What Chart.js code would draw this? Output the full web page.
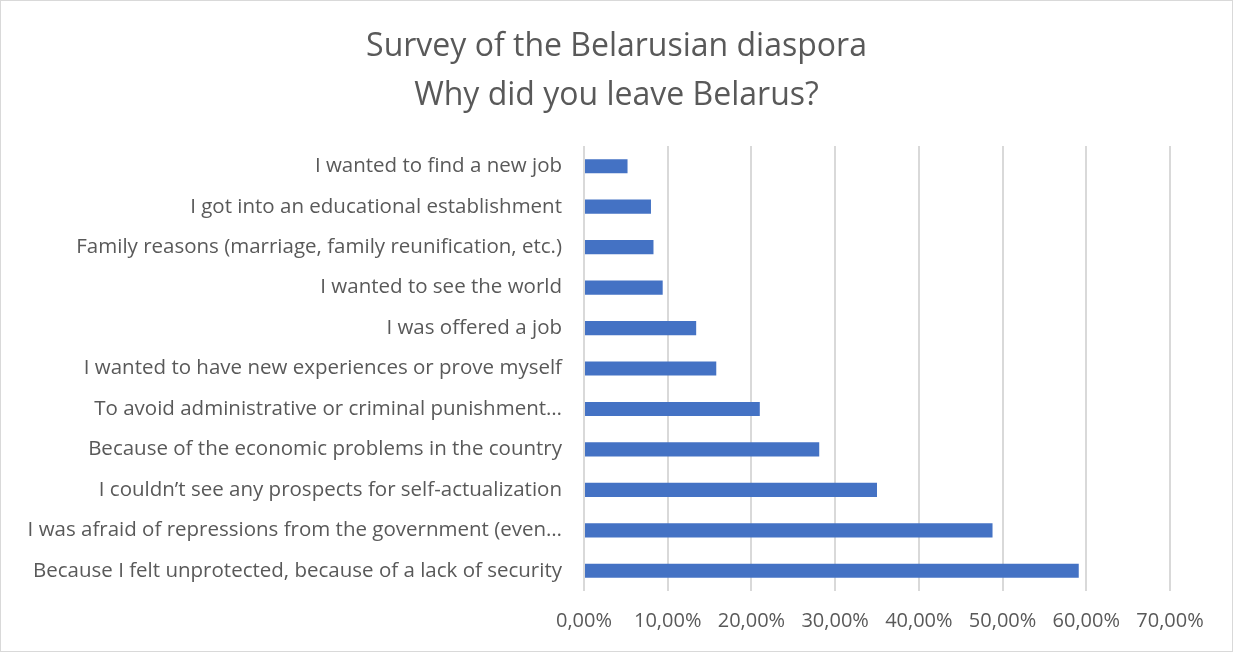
<!DOCTYPE html>
<html>
<head>
<meta charset="utf-8">
<script src="https://cdn.jsdelivr.net/npm/chart.js@4"></script>
<style>
  html, body { margin: 0; padding: 0; background: #fff; }
  #wrap { width: 1233px; height: 652px; box-sizing: border-box; border: 1px solid #d9d9d9; position: relative; }
</style>
</head>
<body>
<div id="wrap"><canvas id="myBarChart"></canvas></div>
<script>
// reasons, top to bottom as in the picture
const reasons = [
    "I wanted to find a new job",
    "I got into an educational establishment",
    "Family reasons (marriage, family reunification, etc.)",
    "I wanted to see the world",
    "I was offered a job",
    "I wanted to have new experiences or prove myself",
    "To avoid administrative or criminal punishment…",
    "Because of the economic problems in the country",
    "I couldn’t see any prospects for self-actualization",
    "I was afraid of repressions from the government (even…",
    "Because I felt unprotected, because of a lack of security"
];
// share of respondents, percent
const shares = [5.2, 8.0, 8.3, 9.4, 13.4, 15.8, 21.0, 28.1, 35.0, 48.8, 59.1];
const titleLines = ["Survey of the Belarusian diaspora", "Why did you leave Belarus?"];
const xMax = 70;
const xStep = 10;

const textColor = '#595959';
const fontFamily = "'Open Sans', 'Liberation Sans', sans-serif";

// title centred on the whole picture (the built-in one centres between the paddings)
const centredTitle = {
    id: 'centredTitle',
    afterDraw(chart) {
        const c = chart.ctx;
        c.save();
        c.fillStyle = textColor;
        c.font = '32px ' + fontFamily;
        c.textAlign = 'center';
        c.textBaseline = 'middle';
        titleLines.forEach((line, i) => c.fillText(line, chart.width / 2, 46 + i * 49));
        c.restore();
    }
};

const ctx = document.getElementById('myBarChart').getContext('2d');
new Chart(ctx, {
    type: 'bar',
    data: {
        labels: reasons,
        datasets: [{
            label: 'Share',
            data: shares,
            backgroundColor: '#4472C4',
            barPercentage: 1,
            categoryPercentage: 0.35
        }]
    },
    plugins: [centredTitle],
    options: {
        indexAxis: 'y',
        responsive: true,
        maintainAspectRatio: false,
        animation: false,
        layout: { padding: { top: 145, right: 62, bottom: 0, left: 10 } },
        plugins: {
            legend: { display: false },
            tooltip: { enabled: false },
            title: { display: false }
        },
        scales: {
            x: {
                min: 0,
                max: xMax,
                ticks: {
                    stepSize: xStep,
                    color: textColor,
                    padding: 18,
                    font: { family: fontFamily, size: 20 },
                    callback: v => v.toFixed(2).replace('.', ',') + '%'
                },
                grid: { color: '#d9d9d9', lineWidth: 2, drawTicks: false },
                border: { display: false }
            },
            y: {
                ticks: {
                    color: textColor,
                    padding: 22,
                    font: { family: fontFamily, size: 20.5 },
                    autoSkip: false
                },
                grid: { display: false, drawTicks: false },
                border: { display: false },
                afterFit: scale => { scale.width = 573; }
            }
        }
    }
});
</script>
</body>
</html>
